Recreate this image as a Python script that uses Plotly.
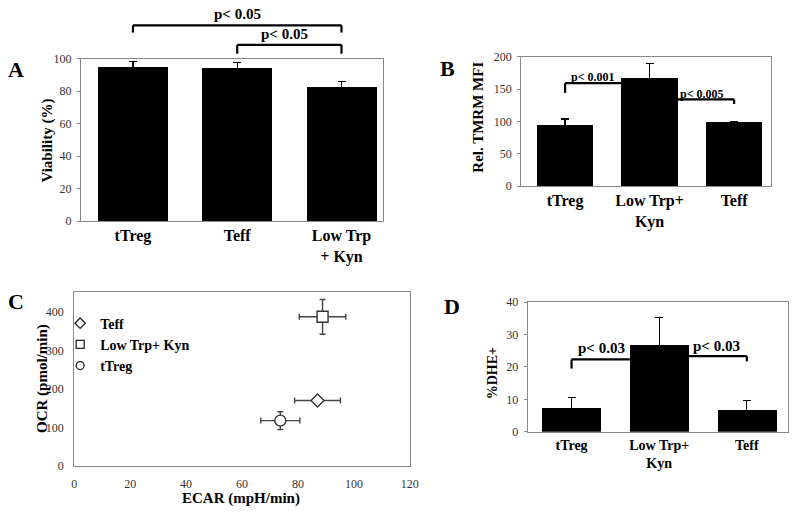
import plotly.graph_objects as go

W, H = 800, 514
SERIF = "Liberation Serif"

# ---------------- data ----------------
# Panel A: viability
a_cats = ["tTreg", "Teff", "Low Trp<br>+ Kyn"]
a_vals = [95.0, 94.5, 82.8]
a_err = [3.0, 3.0, 3.2]

# Panel B: relative TMRM MFI
b_cats = ["tTreg", "Low Trp+<br>Kyn", "Teff"]
b_vals = [95.4, 167.0, 100.0]
b_err = [8.5, 22.0, 0.0]

# Panel C: OCR vs ECAR
c_names = ["Teff", "Low Trp+ Kyn", "tTreg"]
c_ecar = [87.0, 88.8, 73.7]
c_ecar_err = [8.2, 8.3, 7.0]
c_ocr = [170.0, 387.0, 118.0]
c_ocr_err = [5.0, 45.0, 23.0]
c_symbols = ["diamond", "square", "circle"]
c_sizes = [10, 11, 11]

# Panel D: % DHE+
d_cats = ["tTreg", "Low Trp+<br>Kyn", "Teff"]
d_vals = [7.2, 26.8, 6.6]
d_err = [3.3, 8.4, 3.1]

# significance labels
a_ptext = ["p< 0.05", "p< 0.05"]
b_ptext = ["p< 0.001", "p< 0.005"]
d_ptext = ["p< 0.03", "p< 0.03"]

BAR_W = 0.67

# ---------------- layout geometry (pixels) ----------------
def dom_x(x0, x1):
    return [x0 / W, x1 / W]

def dom_y(top, bottom):
    return [1 - bottom / H, 1 - top / H]

panels = {
    "A": dict(xd=dom_x(79, 386), yd=dom_y(53, 220), xr=[-0.5, 2.4], yr=[0, 100]),
    "B": dict(xd=dom_x(526, 780), yd=dom_y(51, 184.3), xr=[-0.52, 2.44], yr=[0, 200]),
    "C": dict(xd=dom_x(72.3, 413), yd=dom_y(292.7, 472), xr=[0, 120], yr=[0, 452]),
    "D": dict(xd=dom_x(532.7, 797), yd=dom_y(303.3, 436.7), xr=[-0.5, 2.47], yr=[0, 40]),
}

def px(p, x):
    d = panels[p]
    return d["xd"][0] + (x - d["xr"][0]) / (d["xr"][1] - d["xr"][0]) * (d["xd"][1] - d["xd"][0])

def py(p, y):
    d = panels[p]
    return d["yd"][0] + (y - d["yr"][0]) / (d["yr"][1] - d["yr"][0]) * (d["yd"][1] - d["yd"][0])

fig = go.Figure()

err_style = dict(type="data", color="black", thickness=1.3, width=4)

def add_bars(vals, errs, xa, ya):
    fig.add_trace(go.Bar(
        x=list(range(len(vals))), y=vals, width=BAR_W,
        marker=dict(color="black", line=dict(width=0)),
        error_y=dict(array=errs, **err_style),
        xaxis=xa, yaxis=ya, showlegend=False, cliponaxis=False,
    ))

add_bars(a_vals, a_err, "x", "y")
add_bars(b_vals, b_err, "x2", "y2")
add_bars(d_vals, d_err, "x4", "y4")

# Panel C scatter
for i, n in enumerate(c_names):
    fig.add_trace(go.Scatter(
        x=[c_ecar[i]], y=[c_ocr[i]], mode="markers",
        marker=dict(symbol=c_symbols[i], size=c_sizes[i], color="white",
                    line=dict(width=1.4, color="#333")),
        error_x=dict(array=[c_ecar_err[i]], color="#444", thickness=1.4, width=3),
        error_y=dict(array=[c_ocr_err[i]], color="#444", thickness=1.4, width=3),
        xaxis="x3", yaxis="y3", showlegend=False, cliponaxis=False,
    ))
    fig.add_trace(go.Scatter(
        x=[None], y=[None], mode="markers", name=f"<b>{n}</b>",
        marker=dict(symbol=c_symbols[i], size=8, color="white",
                    line=dict(width=1.3, color="#222")),
        xaxis="x3", yaxis="y3", showlegend=True,
    ))

# ---------------- axes ----------------
tick_font = dict(family=SERIF, size=12, color="#333")

def cat_axis(p, cats, fsize=16):
    d = panels[p]
    return dict(domain=d["xd"], range=d["xr"], tickvals=list(range(len(cats))),
                ticktext=[f"<b>{c}</b>" for c in cats],
                showline=True, linecolor="#888", linewidth=1, mirror=True, ticks="",
                showgrid=False, zeroline=False,
                tickfont=dict(family=SERIF, size=fsize, color="black"))

def val_axis(p, dtick, anchor):
    d = panels[p]
    return dict(domain=d["yd"], range=d["yr"], dtick=dtick, anchor=anchor,
                showline=True, linecolor="#888", linewidth=1, mirror=True,
                ticks="outside", ticklen=3, tickcolor="#888", ticklabelstandoff=3,
                showgrid=False, zeroline=False, tickfont=tick_font)

fig.update_layout(
    xaxis=dict(**cat_axis("A", a_cats), anchor="y"),
    yaxis=val_axis("A", 20, "x"),
    xaxis2=dict(**cat_axis("B", b_cats), anchor="y2"),
    yaxis2=val_axis("B", 50, "x2"),
    xaxis3=dict(domain=panels["C"]["xd"], range=panels["C"]["xr"], dtick=20, anchor="y3",
                showline=True, linecolor="#888", linewidth=1, mirror=True, ticks="",
                ticklabelstandoff=6,
                showgrid=False, zeroline=False, tickfont=tick_font),
    yaxis3=dict(domain=panels["C"]["yd"], range=panels["C"]["yr"], dtick=100, anchor="x3",
                showline=True, linecolor="#888", linewidth=1, mirror=True, ticks="",
                ticklabelstandoff=7,
                showgrid=False, zeroline=False, tickfont=tick_font),
    xaxis4=dict(**cat_axis("D", d_cats, 14), anchor="y4"),
    yaxis4=val_axis("D", 10, "x4"),
)

# ---------------- brackets ----------------
shapes = []
annots = []
LW = 2.2

def line(x0, y0, x1, y1):
    shapes.append(dict(type="line", xref="paper", yref="paper", x0=x0, y0=y0, x1=x1, y1=y1,
                       line=dict(color="black", width=LW)))

def bracket(p, xa, xb, level, leg_a, leg_b, text, ty, tx=None, fsize=14):
    X0, X1, Y = px(p, xa), px(p, xb), py(p, level)
    line(X0, Y, X1, Y)
    if leg_a is not None:
        line(X0, Y, X0, py(p, leg_a))
    if leg_b is not None:
        line(X1, Y, X1, py(p, leg_b))
    if tx is None:
        tx = (xa + xb) / 2
    annots.append(dict(xref="paper", yref="paper", x=px(p, tx), y=py(p, ty), text=f"<b>{text}</b>",
                       showarrow=False, font=dict(family=SERIF, size=fsize, color="black"),
                       xanchor="center", yanchor="middle"))

half = BAR_W / 2
# Panel A
bracket("A", 0, 2, 120.4, 116.0, 116.0, a_ptext[0], 127.5, fsize=15)
bracket("A", 1, 2, 108.4, 103.0, 103.0, a_ptext[1], 115.0, tx=1.45, fsize=15)
# Panel B
bracket("B", 0, 1 - half, 159, 144, None, b_ptext[0], 168, fsize=12)
bracket("B", 1 + half, 2, 134, None, 127, b_ptext[1], 143, tx=1.62, fsize=12)
# Panel D
bracket("D", 0, 1 - half, 22.3, 19.5, None, d_ptext[0], 25.9, tx=0.34, fsize=15)
bracket("D", 1 + half, 2, 23.3, None, 21.7, d_ptext[1], 26.3, tx=1.65, fsize=15)

# ---------------- titles & panel letters ----------------
def ann_px(x, y, text, size, angle=0, anchor="center"):
    annots.append(dict(xref="paper", yref="paper", x=x / W, y=1 - y / H, text=text, showarrow=False,
                       textangle=angle, font=dict(family=SERIF, size=size, color="black"),
                       xanchor=anchor, yanchor="middle"))

ann_px(45, 137, "<b>Viability (%)</b>", 15, -90)
ann_px(482, 113, "<b>Rel. TMRM MFI</b>", 15, -90)
ann_px(40, 382, "<b>OCR (pmol/min)</b>", 15, -90)
ann_px(242, 505, "<b>ECAR (mpH/min)</b>", 15)
ann_px(497, 377, "<b>%DHE+</b>", 14, -90)

ann_px(13, 64, "<b>A</b>", 22)
ann_px(451, 63, "<b>B</b>", 22)
ann_px(13, 303, "<b>C</b>", 22)
ann_px(456, 308, "<b>D</b>", 22)

fig.update_layout(
    width=W, height=H, margin=dict(l=0, r=0, t=0, b=0),
    paper_bgcolor="white", plot_bgcolor="white",
    shapes=shapes, annotations=annots,
    font=dict(family=SERIF, color="black"),
    legend=dict(x=58 / W, y=1 - 309 / H, xanchor="left", yanchor="top",
                bgcolor="rgba(0,0,0,0)", font=dict(family=SERIF, size=14, color="black"),
                tracegroupgap=0, itemwidth=30),
    bargap=0,
)

fig.write_html("out.html", config={"displayModeBar": False},
               post_script="document.body.style.margin='0';document.body.style.overflow='hidden';")
